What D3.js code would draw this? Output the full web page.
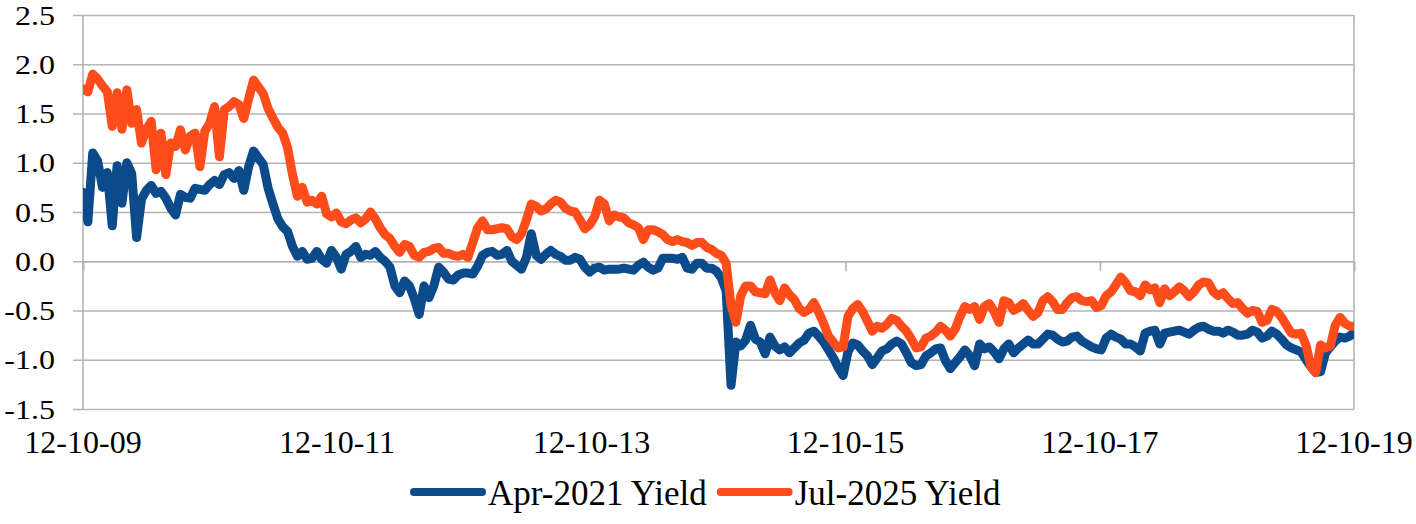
<!DOCTYPE html>
<html><head><meta charset="utf-8">
<script src="https://cdn.jsdelivr.net/npm/d3@7"></script>
<style>
body{margin:0;background:#fff;}
svg text{font-family:"Liberation Serif","Times New Roman","DejaVu Serif",serif;fill:#000;}
</style>
</head><body>
<svg id="chart" width="1416" height="524"></svg>
<script>
// ---- data ----
const seriesNames = ["Apr-2021 Yield", "Jul-2025 Yield"];
const seriesColors = ["#0b4a8b", "#ff4c1b"];
const startDate = "2009-10-12";   // first observation
const stepDays = 14;              // observations every two weeks
const apr2021 = [
 0.70,0.40,1.10,1.02,0.75,0.90,0.36,0.97,0.59,1.00,
 0.89,0.24,0.63,0.72,0.77,0.69,0.71,0.64,0.54,0.47,
 0.68,0.65,0.64,0.74,0.73,0.72,0.78,0.82,0.78,0.88,
 0.90,0.84,0.92,0.72,0.96,1.12,1.05,0.98,0.74,0.58,
 0.43,0.35,0.30,0.15,0.05,0.10,0.02,0.03,0.10,0.02,
 -0.02,0.11,0.04,-0.08,0.07,0.10,0.15,0.04,0.07,0.06,
 0.10,0.04,0.00,-0.06,-0.25,-0.32,-0.20,-0.25,-0.38,-0.54,
 -0.25,-0.37,-0.25,-0.06,-0.11,-0.18,-0.19,-0.14,-0.12,-0.12,
 -0.13,-0.05,0.06,0.09,0.10,0.06,0.07,0.11,0.00,-0.04,
 -0.08,0.04,0.28,0.06,0.02,0.07,0.11,0.07,0.05,0.01,
 0.01,0.04,0.02,-0.06,-0.11,-0.07,-0.06,-0.09,-0.08,-0.08,
 -0.08,-0.07,-0.08,-0.09,-0.04,-0.01,-0.06,-0.09,-0.07,0.03,
 0.03,0.03,0.02,0.04,-0.07,-0.08,-0.02,-0.02,-0.07,-0.07,
 -0.10,-0.17,-0.30,-1.26,-0.82,-0.86,-0.80,-0.65,-0.79,-0.82,
 -0.94,-0.77,-0.86,-0.90,-0.87,-0.93,-0.88,-0.83,-0.80,-0.73,
 -0.71,-0.76,-0.82,-0.90,-0.98,-1.08,-1.16,-0.92,-0.83,-0.85,
 -0.91,-0.96,-1.05,-0.98,-0.91,-0.89,-0.84,-0.81,-0.84,-0.93,
 -1.03,-1.06,-1.05,-0.96,-0.93,-0.89,-0.88,-1.01,-1.09,-1.03,
 -0.97,-0.90,-0.96,-1.06,-0.84,-0.89,-0.87,-0.92,-0.99,-0.89,
 -0.84,-0.93,-0.88,-0.84,-0.80,-0.84,-0.84,-0.79,-0.74,-0.75,
 -0.79,-0.82,-0.81,-0.77,-0.76,-0.81,-0.84,-0.87,-0.89,-0.90,
 -0.78,-0.74,-0.77,-0.79,-0.84,-0.84,-0.87,-0.91,-0.73,-0.71,
 -0.70,-0.84,-0.73,-0.72,-0.71,-0.70,-0.72,-0.74,-0.70,-0.67,
 -0.66,-0.69,-0.71,-0.71,-0.73,-0.70,-0.72,-0.75,-0.75,-0.74,
 -0.70,-0.72,-0.78,-0.76,-0.71,-0.74,-0.79,-0.85,-0.88,-0.90,
 -0.92,-1.00,-1.07,-1.13,-1.12,-0.93,-0.87,-0.81,-0.77,-0.78,
 -0.76,-0.72
];
const jul2025 = [
 1.75,1.72,1.90,1.85,1.78,1.72,1.37,1.71,1.34,1.74,
 1.40,1.54,1.20,1.34,1.42,0.93,1.30,0.88,1.20,1.165,
 1.335,1.13,1.27,1.30,0.96,1.32,1.40,1.57,1.06,1.54,
 1.57,1.62,1.59,1.45,1.65,1.84,1.77,1.70,1.55,1.45,
 1.36,1.30,1.15,0.88,0.66,0.75,0.60,0.62,0.58,0.66,
 0.48,0.45,0.49,0.40,0.38,0.42,0.44,0.39,0.43,0.50,
 0.43,0.34,0.27,0.23,0.15,0.09,0.17,0.15,0.06,0.04,
 0.09,0.10,0.13,0.14,0.08,0.08,0.06,0.05,0.07,0.04,
 0.19,0.34,0.41,0.32,0.32,0.33,0.34,0.33,0.25,0.22,
 0.28,0.42,0.58,0.56,0.51,0.53,0.58,0.62,0.60,0.54,
 0.51,0.50,0.42,0.33,0.37,0.45,0.62,0.58,0.41,0.47,
 0.45,0.44,0.39,0.37,0.34,0.22,0.32,0.32,0.30,0.27,
 0.22,0.20,0.22,0.20,0.19,0.16,0.19,0.19,0.14,0.12,
 0.08,0.06,-0.02,-0.45,-0.62,-0.35,-0.25,-0.25,-0.31,-0.32,
 -0.33,-0.19,-0.32,-0.40,-0.27,-0.34,-0.39,-0.48,-0.52,-0.49,
 -0.42,-0.52,-0.63,-0.76,-0.82,-0.88,-0.87,-0.56,-0.48,-0.44,
 -0.51,-0.61,-0.71,-0.66,-0.68,-0.64,-0.58,-0.60,-0.66,-0.71,
 -0.79,-0.88,-0.87,-0.78,-0.76,-0.72,-0.66,-0.70,-0.76,-0.69,
 -0.56,-0.46,-0.49,-0.46,-0.59,-0.46,-0.43,-0.51,-0.62,-0.40,
 -0.42,-0.50,-0.47,-0.43,-0.50,-0.56,-0.52,-0.40,-0.36,-0.41,
 -0.49,-0.49,-0.42,-0.37,-0.36,-0.40,-0.41,-0.40,-0.47,-0.45,
 -0.35,-0.31,-0.24,-0.16,-0.22,-0.30,-0.31,-0.35,-0.24,-0.29,
 -0.27,-0.42,-0.28,-0.35,-0.31,-0.26,-0.30,-0.36,-0.31,-0.24,
 -0.21,-0.22,-0.31,-0.35,-0.32,-0.38,-0.43,-0.42,-0.48,-0.53,
 -0.50,-0.51,-0.62,-0.60,-0.49,-0.51,-0.57,-0.65,-0.73,-0.74,
 -0.73,-0.85,-1.07,-1.13,-0.85,-0.88,-0.86,-0.65,-0.57,-0.63,
 -0.66,-0.66
];
const yTicks = [-1.5, -1.0, -0.5, 0.0, 0.5, 1.0, 1.5, 2.0, 2.5];
const xTickLabels = ["12-10-09", "12-10-11", "12-10-13", "12-10-15", "12-10-17", "12-10-19"];

// ---- layout ----
const W = 1416, H = 524;
const plot = {left: 83, right: 1354, top: 15, bottom: 409};
const gridColor = "#b4b4b4";
const fontFamily = '"Liberation Serif","Times New Roman","DejaVu Serif",serif';
const axisFont = 32, yLabelFont = 27, legendFont = 35;

const parseTick = d3.timeParse("%d-%m-%y");
const parseISO = d3.timeParse("%Y-%m-%d");
const fmtTick = d3.timeFormat("%d-%m-%y");
const fmtY = d3.formatLocale({decimal: ".", thousands: ",", grouping: [3], currency: ["", ""], minus: "-"}).format(".1f");
const xTickDates = xTickLabels.map(parseTick);
const start = parseISO(startDate);
const dates = apr2021.map((_, i) => d3.timeDay.offset(start, i * stepDays));

const x = d3.scaleTime().domain([xTickDates[0], xTickDates[xTickDates.length - 1]]).range([plot.left, plot.right]);
const y = d3.scaleLinear().domain([-1.5, 2.5]).range([plot.bottom, plot.top]);

const svg = d3.select("#chart");
svg.append("rect").attr("width", W).attr("height", H).attr("fill", "#fff");

// horizontal gridlines + y tick marks
const yAxis = d3.axisLeft(y).tickValues(yTicks).tickSize(0).tickFormat(fmtY);
const gy = svg.append("g").attr("transform", `translate(${plot.left},0)`).call(yAxis)
  .attr("font-family", null).attr("font-size", null);
gy.select(".domain").remove();
gy.selectAll(".tick line").attr("stroke", gridColor).attr("stroke-width", 1.6)
  .attr("x1", -10).attr("x2", plot.right - plot.left);
gy.selectAll(".tick text").attr("x", -28)
  .style("font-family", fontFamily).style("font-size", yLabelFont + "px")
  .attr("fill", "#000").attr("dy", "0.34em")
  .each(function () {   // the reference's y labels are horizontally wide: stretch glyphs
    const L = this.getComputedTextLength();
    d3.select(this).attr("textLength", L * axisFont / yLabelFont).attr("lengthAdjust", "spacingAndGlyphs");
  });

// plot border: left and right vertical lines
[plot.left, plot.right].forEach(px => {
  svg.append("line").attr("x1", px).attr("x2", px).attr("y1", plot.top).attr("y2", plot.bottom)
    .attr("stroke", gridColor).attr("stroke-width", 1.6);
});

// x axis crossing at 0 with tick marks; labels at bottom
const xAxis = d3.axisBottom(x).tickValues(xTickDates).tickSize(10).tickFormat(() => "");
const gx = svg.append("g").attr("transform", `translate(0,${y(0)})`).call(xAxis);
gx.select(".domain").attr("stroke", gridColor).attr("stroke-width", 1.6);
gx.selectAll(".tick line").attr("stroke", gridColor).attr("stroke-width", 1.6);

svg.append("g").selectAll("text").data(xTickDates).join("text")
  .attr("x", d => x(d)).attr("y", 453).attr("text-anchor", "middle")
  .style("font-family", fontFamily).style("font-size", axisFont + "px").text(d => fmtTick(d));

// clip
svg.append("clipPath").attr("id", "clip").append("rect")
  .attr("x", plot.left).attr("y", 0).attr("width", plot.right - plot.left).attr("height", H);

const line = d3.line().x((d, i) => x(dates[i])).y(d => y(d)).curve(d3.curveLinear);
const series = [apr2021, jul2025];
svg.append("g").attr("clip-path", "url(#clip)").selectAll("path").data(series).join("path")
  .attr("d", d => line(d)).attr("fill", "none")
  .attr("stroke", (d, i) => seriesColors[i]).attr("stroke-width", 9)
  .attr("stroke-linejoin", "round").attr("stroke-linecap", "round");

// legend
const legY = 492;
const lg = svg.append("g");
let cx = 410;
seriesNames.forEach((name, i) => {
  lg.append("line").attr("x1", cx + 4).attr("x2", cx + 72).attr("y1", legY).attr("y2", legY)
    .attr("stroke", seriesColors[i]).attr("stroke-width", 8).attr("stroke-linecap", "round");
  const t = lg.append("text").attr("x", cx + 78).attr("y", legY + 13)
    .style("font-family", fontFamily).style("font-size", legendFont + "px").text(name);
  cx = cx + 78 + t.node().getComputedTextLength() + 10;
});
</script>
</body></html>
